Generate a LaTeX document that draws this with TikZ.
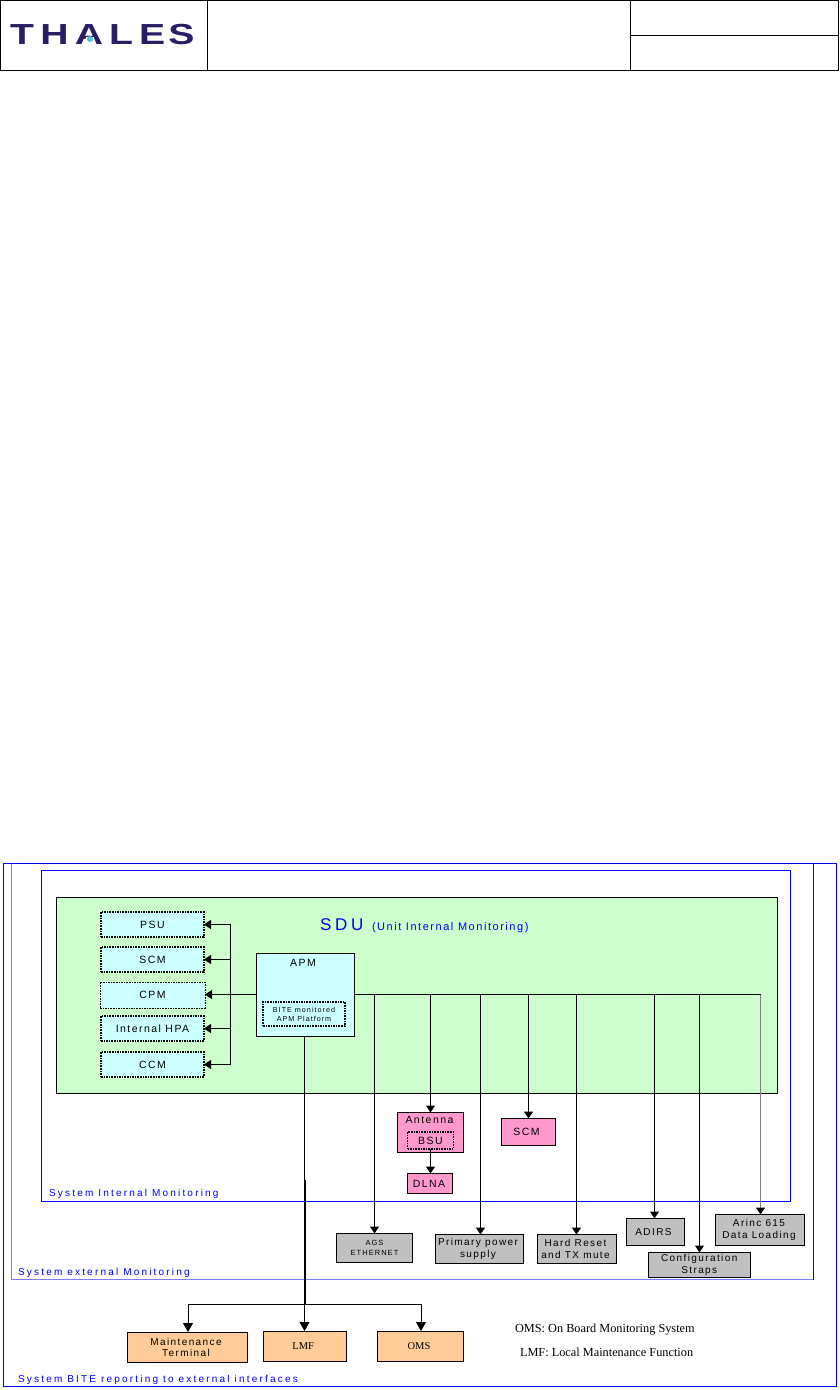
\documentclass[tikz,border=0pt]{standalone}
\usepackage{fontspec}
\usetikzlibrary{arrows.meta}
\setmainfont{Liberation Sans}
\newfontfamily\spc[LetterSpace=14]{Liberation Sans}
\newfontfamily\spw[LetterSpace=22]{Liberation Sans}
\newfontfamily\srf{Liberation Serif}
\newfontfamily\logof{Liberation Sans}
\newcommand{\lgl}[2]{\makebox[#1pt][l]{#2}}
\definecolor{frameblue}{RGB}{0,0,240}
\definecolor{lightframe}{RGB}{125,125,245}
\definecolor{sdugreen}{RGB}{204,255,204}
\definecolor{cyanbox}{RGB}{204,255,255}
\definecolor{pinkbox}{RGB}{255,153,204}
\definecolor{greybox}{RGB}{192,192,192}
\definecolor{orangebox}{RGB}{255,204,153}
\definecolor{logonavy}{RGB}{40,30,100}
\definecolor{logoteal}{RGB}{90,190,220}
\tikzset{
  x=1pt,y=-1pt,
  every node/.style={outer sep=0pt,inner sep=0pt,align=center},
  boxed/.style={draw=black,line width=1pt},
  modbox/.style={boxed,fill=cyanbox,dash pattern=on 1.6pt off 1pt,line width=1.4pt,font=\spc\fontsize{10.5}{12}\selectfont},
  pinkfill/.style={boxed,fill=pinkbox,font=\spc\fontsize{10.5}{12}\selectfont},
  greyfill/.style={boxed,fill=greybox,font=\spc\fontsize{10}{11.5}\selectfont},
  orangefill/.style={boxed,fill=orangebox,font=\spc\fontsize{10}{11}\selectfont},
  frametitle/.style={text=frameblue,anchor=west,font=\spw\fontsize{10}{11}\selectfont},
  legend/.style={font=\srf\fontsize{12.3}{14}\selectfont},
  wire/.style={line width=1pt,draw=black},
  arr/.style={wire,-{Triangle[length=7pt,width=9pt]}},
  arrbig/.style={wire,-{Triangle[length=9pt,width=10pt]}},
  frm/.style={draw=frameblue,line width=1pt},
}
\begin{document}
\begin{tikzpicture}
\useasboundingbox (0,0) rectangle (839,1390);
% header
\draw[line width=1pt] (0.5,0.5) rectangle (838.5,70.5);
\draw[line width=1pt] (207.5,0.5) -- (207.5,70.5);
\draw[line width=1pt] (630.5,0.5) -- (630.5,70.5);
\draw[line width=1pt] (630.5,35.5) -- (838.5,35.5);
\node[anchor=west,xscale=1.35,transform shape] (logo) at (10.2,35) {\logof\bfseries\fontsize{29}{31}\selectfont\textcolor{logonavy}{\lgl{22.3}{T}\lgl{25.7}{H}\lgl{25.4}{A}\lgl{22.2}{L}\lgl{21.6}{E}S}};
\fill[white] (86.3,37) -- (93.7,37) -- (96.5,45.5) -- (83.5,45.5) -- cycle;
\fill[logoteal] (90,39) circle (3);
% frames
\draw[draw=frameblue,line width=1pt] (3.5,863.5) rectangle (836,1386);
\draw[draw=lightframe,line width=1pt] (11.5,863.5) -- (11.5,1279.5) -- (813,1279.5);
\draw[frm] (813,863.5) -- (813,1279.5);
\draw[frm] (41.5,870.5) rectangle (790.5,1201.5);
\node[frametitle] (tint) at (49,1194) {System Internal Monitoring};
\node[frametitle] (text) at (18,1273) {System external Monitoring};
\node[frametitle] (tbite) at (18,1380) {System BITE reporting to external interfaces};
% SDU
\node[boxed,fill=sdugreen,minimum width=721pt,minimum height=195.5pt] (sdu) at (417,995.25) {};
\node[text=frameblue,anchor=west,font=\spw\fontsize{17}{19}\selectfont] (sdut) at (320,925) {SDU};
\node[text=frameblue,anchor=west,font=\spc\fontsize{11}{13}\selectfont] (sdus) at (372,928) {(Unit Internal Monitoring)};
% internal modules
\node[modbox,minimum width=103pt,minimum height=25pt] (psu) at (152.5,924.5) {PSU};
\node[modbox,minimum width=103pt,minimum height=25pt] (scm) at (152.5,959.5) {SCM};
\node[modbox,line width=1pt,minimum width=105pt,minimum height=26pt] (cpm) at (152.5,995) {CPM};
\node[modbox,minimum width=103pt,minimum height=25pt] (hpa) at (152.5,1028.5) {Internal HPA};
\node[modbox,minimum width=103pt,minimum height=25pt] (ccm) at (152.5,1064.5) {CCM};
% APM
\node[boxed,fill=cyanbox,minimum width=98pt,minimum height=82.5pt] (apm) at (305.5,994.75) {};
\node[font=\spc\fontsize{10.5}{12}\selectfont] (apml) at (303,963) {APM};
\node[modbox,line width=1.2pt,minimum width=82pt,minimum height=24pt,font=\spc\fontsize{7.2}{9}\selectfont] (bite) at (304,1014) {BITE monitored\\APM Platform};
% external boxes
\node[pinkfill,minimum width=66.5pt,minimum height=40pt] (ant) at (430.25,1132.5) {};
\node[font=\spc\fontsize{10.5}{12}\selectfont] (antl) at (429.5,1119.5) {Antenna};
\node[modbox,fill=pinkbox,line width=1.2pt,minimum width=46pt,minimum height=17pt] (bsu) at (430.5,1140.5) {BSU};
\node[pinkfill,minimum width=45.5pt,minimum height=20pt] (dlna) at (430,1183.5) {DLNA\kern2pt};
\node[pinkfill,minimum width=54pt,minimum height=27pt] (scmx) at (528.5,1132) {SCM\kern4pt};
\node[greyfill,font=\spc\fontsize{7.5}{10}\selectfont,minimum width=76pt,minimum height=28.5pt] (ags) at (374.5,1247.75) {AGS\\ETHERNET};
\node[greyfill,minimum width=88pt,minimum height=29pt] (pps) at (479.5,1249) {Primary power\kern3pt\\supply\kern3pt};
\node[greyfill,minimum width=79pt,minimum height=29pt] (hrs) at (577,1249) {Hard Reset\kern3pt\\and TX mute\kern3pt};
\node[greyfill,minimum width=58pt,minimum height=27pt] (adi) at (655.5,1232) {ADIRS\kern4pt};
\node[greyfill,minimum width=102.5pt,minimum height=25pt] (cfg) at (699.25,1265) {Configuration\\Straps};
\node[greyfill,minimum width=89pt,minimum height=31pt] (arc) at (760,1230) {Arinc 615\kern2pt\\Data Loading\kern2pt};
\node[orangefill,minimum width=120pt,minimum height=30pt] (mt) at (187.5,1347) {Maintenance\kern3pt\\Terminal\kern3pt};
\node[orangefill,font=\srf\fontsize{10.5}{12}\selectfont,minimum width=82.5pt,minimum height=30pt] (lmf) at (304.75,1346) {LMF\kern3pt};
\node[orangefill,font=\srf\fontsize{10.5}{12}\selectfont,minimum width=86pt,minimum height=30pt] (oms) at (420.5,1346) {OMS\kern3pt};
% legend
\node[legend,anchor=west] (l1) at (515,1330) {OMS: On Board Monitoring System};
\node[legend,anchor=west] (l2) at (520,1352) {LMF: Local Maintenance Function};
% connector points
\coordinate (ja) at (230.5,924.5);
\coordinate (jb) at (230.5,1064.5);
\coordinate (jc) at (230.5,994.5);
\coordinate (b0) at (354.5,994.5);
\coordinate (b1) at (374.5,994.5);
\coordinate (b2) at (430.5,994.5);
\coordinate (b3) at (480.5,994.5);
\coordinate (b4) at (528.5,994.5);
\coordinate (b5) at (576.5,994.5);
\coordinate (b6) at (654.5,994.5);
\coordinate (b7) at (699.5,994.5);
\coordinate (b8) at (760.5,994.5);
\coordinate (t0) at (304.5,1036);
\coordinate (t1) at (304.5,1180);
\coordinate (t2) at (304.5,1304);
\coordinate (tl) at (188,1304);
\coordinate (tr) at (421,1304);
% connectors
\draw[wire] (ja) -- (jb);
\draw[arr] (ja) -- (psu.east);
\draw[arr] (ja |- scm.east) -- (scm.east);
\draw[arr] (apm.west |- jc) -- (cpm.east |- jc);
\draw[arr] (ja |- hpa.east) -- (hpa.east);
\draw[arr] (jb) -- (ccm.east);
\draw[wire] (b0) -- (b8);
\draw[arr] (b1) -- (b1 |- ags.north);
\draw[arr] (b2) -- (b2 |- ant.north);
\draw[arr] (b2 |- bsu.south) -- (b2 |- dlna.north);
\draw[arr] (b3) -- (b3 |- pps.north);
\draw[arr] (b4) -- (b4 |- scmx.north);
\draw[arr] (b5) -- (b5 |- hrs.north);
\draw[arr] (b6) -- (b6 |- adi.north);
\draw[arr] (b7) -- (b7 |- cfg.north);
\draw[arr,draw=gray,-{Triangle[length=7pt,width=9pt,color=black]}] (b8) -- (b8 |- arc.north);
\draw[wire] (t0) -- (t1);
\draw[line width=2pt] (t1) -- (t2);
\draw[wire] (tl) -- (tr);
\draw[arrbig] (t2) -- (t2 |- lmf.north);
\draw[arrbig] (tl) -- (tl |- mt.north);
\draw[arrbig] (tr) -- (tr |- oms.north);
\end{tikzpicture}
\end{document}
